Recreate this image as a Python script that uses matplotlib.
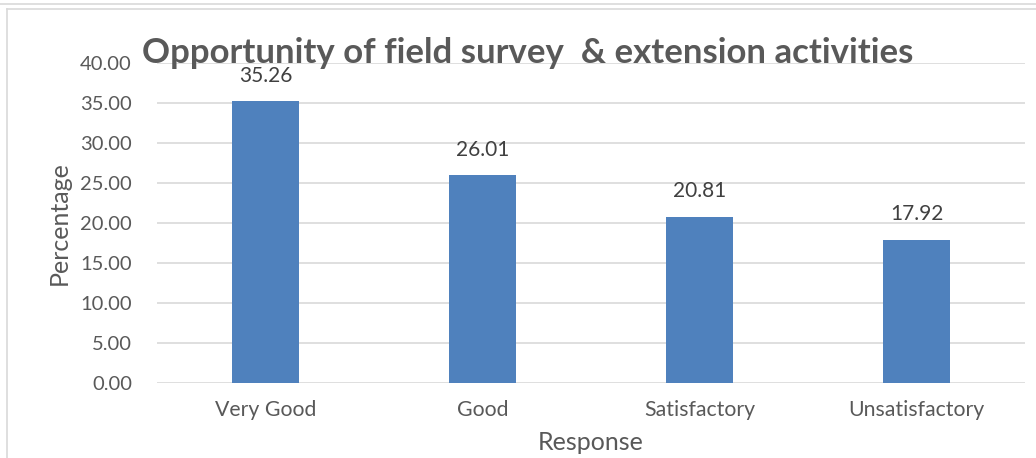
import matplotlib.pyplot as plt
from matplotlib.lines import Line2D

categories = ['Very Good', 'Good', 'Satisfactory', 'Unsatisfactory']
values = [35.26, 26.01, 20.81, 17.92]
yticks = [0, 5, 10, 15, 20, 25, 30, 35, 40]

plt.rcParams['font.family'] = ['Lato', 'DejaVu Sans']
txt = '#595959'

fig = plt.figure(figsize=(10.36, 4.58), dpi=100)
ax = fig.add_axes([157 / 1036, 1 - 383 / 458, 868 / 1036, 320 / 458])

x = list(range(len(categories)))
ax.bar(x, values, width=0.31, color='#4f81bd', zorder=3)
for xi, v in zip(x, values):
    ax.annotate(f'{v:.2f}', (xi, v), xytext=(0, 11), textcoords='offset points',
                ha='center', va='bottom', fontsize=15, color='#404040')

ax.set_xlim(-0.5, len(categories) - 0.5)
ax.set_ylim(0, 40)
ax.set_yticks(yticks)
ax.set_yticklabels([f'{t:.2f}' for t in yticks])
ax.set_xticks(x)
ax.set_xticklabels(categories)
ax.tick_params(axis='both', length=0, labelcolor=txt)
ax.tick_params(axis='y', labelsize=14.5, pad=18)
ax.tick_params(axis='x', labelsize=15.3, pad=12)
ax.grid(axis='y', color='#d9d9d9', linewidth=1.2, zorder=0)
for s in ax.spines.values():
    s.set_visible(False)

ax.set_ylabel('Percentage', fontsize=18, color=txt, labelpad=7)
ax.set_xlabel('Response', fontsize=18, color=txt, labelpad=8)

fig.text(528 / 1036, 1 - 53 / 458, 'Opportunity of field survey  & extension activities',
         ha='center', va='center', fontsize=25, fontweight='bold', color=txt)

# chart frame
fig.add_artist(Line2D([0, 1], [1 - 4 / 458] * 2, color='#d9d9d9', lw=1.2))
fig.add_artist(Line2D([7 / 1036, 1], [1 - 9 / 458] * 2, color='#d9d9d9', lw=1.2))
fig.add_artist(Line2D([7 / 1036] * 2, [0, 1 - 9 / 458], color='#d9d9d9', lw=1.2))

fig.savefig('out.png', dpi=100)
